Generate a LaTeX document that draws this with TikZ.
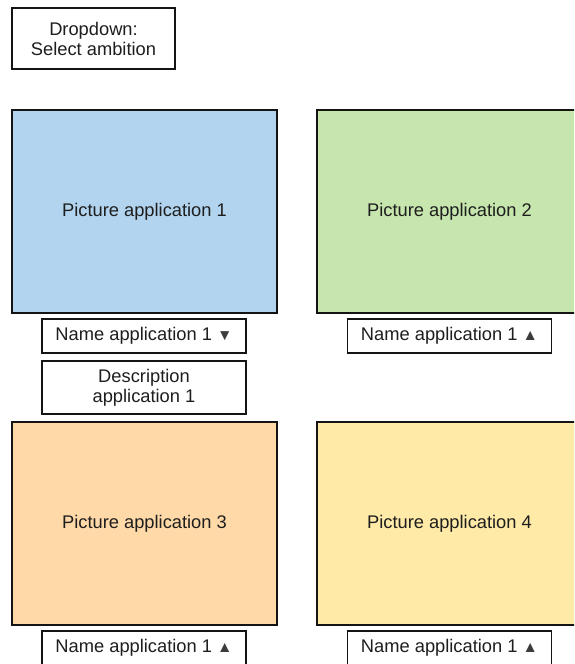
\documentclass[tikz,border=0pt]{standalone}
\usepackage{fontspec}
\setmainfont{Liberation Sans}
\definecolor{picblue}{RGB}{178,212,238}
\definecolor{picgreen}{RGB}{198,230,174}
\definecolor{picorange}{RGB}{255,217,168}
\definecolor{picyellow}{RGB}{255,234,168}
\definecolor{edge}{RGB}{20,20,20}
\definecolor{ink}{RGB}{30,30,30}
\definecolor{arrowgray}{RGB}{60,60,60}
\tikzset{
  base/.style={draw=edge, line width=1.6pt, inner sep=0pt, align=center,
    text=ink, font=\fontsize{18.3}{20}\selectfont},
  picbox/.style={base, minimum width=265pt, minimum height=203pt},
  namebox/.style={base, minimum width=204pt, minimum height=34pt, fill=white},
  descbox/.style={base, minimum width=204pt, minimum height=53pt, fill=white},
  ddbox/.style={base, minimum width=163pt, minimum height=61pt, fill=white},
}
% sort-order markers next to the application names
\newcommand{\dn}{{\color{arrowgray}\fontsize{15.5}{15}\selectfont ▼}}
\newcommand{\upt}{{\color{arrowgray}\fontsize{15.5}{15}\selectfont ▲}}
\newcommand{\lift}[1]{\raisebox{4pt}{#1}}
\begin{document}
\begin{tikzpicture}[x=1pt,y=-1pt]
\useasboundingbox (0,0) rectangle (574,664);
\clip (0,0) rectangle (574,664);
% selector at the top
\node[ddbox] (dd) at (93.5,38.5) {Dropdown:\\Select ambition};
% four application tiles
\node[picbox, fill=picblue]   (p1) at (144.5,211.5) {\lift{Picture application 1}};
\node[picbox, fill=picgreen]  (p2) at (449.5,211.5) {\lift{Picture application 2}};
\node[picbox, fill=picorange] (p3) at (144.5,523.5) {\lift{Picture application 3}};
\node[picbox, fill=picyellow] (p4) at (449.5,523.5) {\lift{Picture application 4}};
% captions below the tiles
\node[namebox] (n1) at (144,336) {Name application 1 \dn};
\node[descbox] (d1) at (144,387.5) {Description\\application 1};
\node[namebox] (n2) at (449.5,336) {Name application 1 \upt};
\node[namebox] (n3) at (144,648) {Name application 1 \upt};
\node[namebox] (n4) at (449.5,648) {Name application 1 \upt};
\end{tikzpicture}
\end{document}
